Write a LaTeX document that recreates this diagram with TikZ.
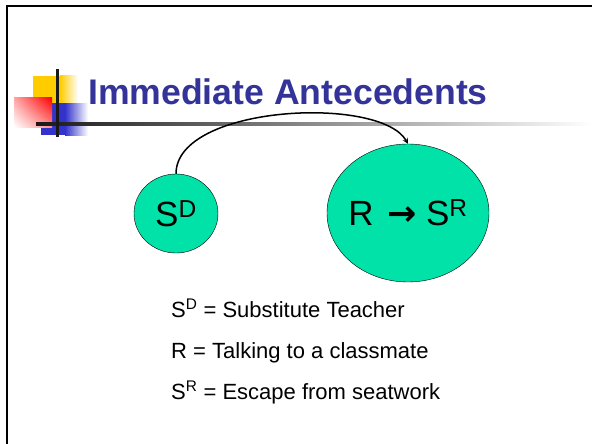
\documentclass[tikz,border=0pt]{standalone}
\usepackage{fontspec}
\setmainfont{Liberation Sans}
\newfontfamily\arrowfont{DejaVu Sans}
\usetikzlibrary{shapes.geometric,shadings}
\definecolor{bubblegreen}{RGB}{0,226,168}
\definecolor{titleblue}{RGB}{51,51,153}
\definecolor{logoyellow}{RGB}{255,204,0}
\definecolor{logored}{RGB}{255,0,0}
\definecolor{logoblue}{RGB}{51,51,204}
\begin{document}
\begin{tikzpicture}[x=1pt,y=-1pt,
	bubble/.style={ellipse,draw=black,thin,fill=bubblegreen,inner sep=0pt,font=\fontsize{35}{42}\selectfont},
	defline/.style={anchor=base west,inner sep=0pt,font=\fontsize{22}{26}\selectfont}]
	\useasboundingbox (0,0) rectangle (592,444);
	% slide frame
	\draw[line width=2.2pt] (7,444) -- (7,6) -- (592,6);
	% logo squares
	\fill[logoyellow] (33,76) rectangle (60,103);
	\shade[left color=logoyellow,right color=white] (60,76) rectangle (78,103);
	\fill[logoblue] (41,103) rectangle (65,135);
	\shade[left color=logoblue,right color=white] (65,103) rectangle (88,135);
	\shade[upper right=logored,lower right=logored!45,upper left=logored!35,lower left=white] (14,98) rectangle (52,127);
	% logo lines
	\shade[left color=black!90,right color=white] (36,122.5) rectangle (592,125.5);
	\fill[black!90] (55.5,69) rectangle (58.5,137);
	% title
	\node[anchor=base west,inner sep=0pt,text=titleblue,font=\fontsize{35.6}{42}\selectfont\bfseries] (title) at (88,105) {Immediate Antecedents};
	% bubbles
	\node[bubble,minimum width=84pt,minimum height=79pt] (sd) at (176,213.5) {S\textsuperscript{D}};
	\node[bubble,minimum width=162pt,minimum height=138pt] (rsr) at (408,213) {\makebox[0pt]{R\hspace{14pt}{\arrowfont\bfseries →}\hspace{9pt}S\textsuperscript{R}}};
	% arrow
	\draw[line width=1.5pt,-stealth] (sd.north) .. controls (176,105) and (380,95) .. (rsr.north);
	% definitions
	\node[defline] (def1) at (171,317) {S\textsuperscript{D} = Substitute Teacher};
	\node[defline] (def2) at (171,358) {R = Talking to a classmate};
	\node[defline] (def3) at (171,399) {S\textsuperscript{R} = Escape from seatwork};
\end{tikzpicture}
\end{document}
